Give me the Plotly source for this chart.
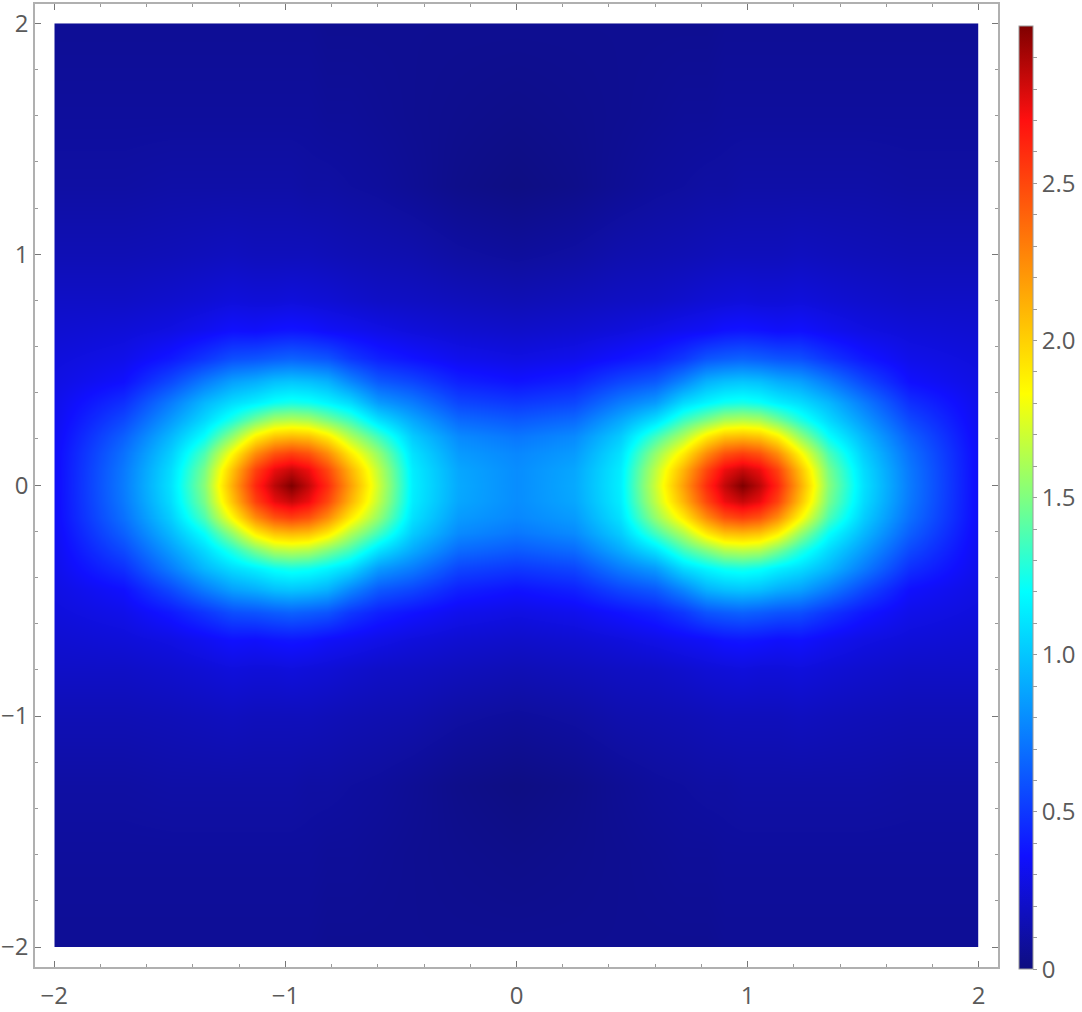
import plotly.graph_objects as go

# grid, upper-right quadrant (x >= 0, y >= 0);
# the density is mirror-symmetric in x and y, so the other quadrants reuse it
x_half = [0, 0.25, 0.45, 0.6, 0.72, 0.82, 0.9, 0.975, 1.05, 1.13, 1.23, 1.35, 1.5, 1.7, 2.0]
y_half = [0, 0.07, 0.14, 0.21, 0.28, 0.36, 0.45, 0.55, 0.67, 0.8, 1.0, 1.3, 1.6, 2.0]

z_quadrant = [
    [0.80, 0.90, 1.15, 1.70, 2.18, 2.60, 2.84, 3.00, 2.86, 2.62, 2.13, 1.52, 1.10, 0.74, 0.33],
    [0.80, 0.89, 1.14, 1.66, 2.10, 2.50, 2.74, 2.83, 2.75, 2.52, 2.05, 1.48, 1.08, 0.73, 0.33],
    [0.78, 0.85, 1.10, 1.55, 1.90, 2.25, 2.46, 2.53, 2.46, 2.25, 1.85, 1.38, 1.03, 0.70, 0.33],
    [0.72, 0.79, 1.02, 1.35, 1.62, 1.90, 2.05, 2.08, 2.04, 1.88, 1.55, 1.21, 0.95, 0.64, 0.32],
    [0.62, 0.68, 0.90, 1.10, 1.35, 1.50, 1.62, 1.65, 1.62, 1.48, 1.28, 1.07, 0.85, 0.56, 0.31],
    [0.50, 0.55, 0.74, 0.85, 1.07, 1.17, 1.23, 1.25, 1.22, 1.15, 1.08, 0.95, 0.74, 0.47, 0.30],
    [0.37, 0.42, 0.55, 0.62, 0.78, 0.93, 0.98, 1.00, 0.98, 0.92, 0.87, 0.74, 0.56, 0.36, 0.28],
    [0.28, 0.31, 0.37, 0.42, 0.50, 0.60, 0.63, 0.65, 0.63, 0.60, 0.58, 0.49, 0.39, 0.30, 0.26],
    [0.21, 0.23, 0.26, 0.29, 0.32, 0.34, 0.37, 0.38, 0.37, 0.35, 0.36, 0.32, 0.28, 0.25, 0.23],
    [0.15, 0.17, 0.19, 0.20, 0.22, 0.24, 0.25, 0.26, 0.25, 0.25, 0.26, 0.24, 0.22, 0.20, 0.20],
    [0.08, 0.10, 0.13, 0.14, 0.15, 0.16, 0.17, 0.17, 0.17, 0.17, 0.18, 0.17, 0.16, 0.15, 0.15],
    [0.01, 0.03, 0.06, 0.08, 0.09, 0.10, 0.10, 0.11, 0.11, 0.11, 0.11, 0.11, 0.11, 0.10, 0.10],
    [0.03, 0.04, 0.05, 0.06, 0.07, 0.07, 0.08, 0.08, 0.08, 0.08, 0.08, 0.08, 0.08, 0.08, 0.08],
    [0.05, 0.05, 0.05, 0.05, 0.05, 0.05, 0.06, 0.06, 0.06, 0.06, 0.06, 0.06, 0.06, 0.06, 0.06],
]

axis_ticks = [-2, -1, 0, 1, 2]
bar_ticks = [round(i * 0.1, 1) for i in range(30)]
bar_labels = ["0" if v == 0 else (f"{v:.1f}" if round(v * 10) % 5 == 0 else "") for v in bar_ticks]

jet = [
    [0.0, "rgb(14,14,128)"],
    [0.12, "rgb(16,16,255)"],
    [0.4, "rgb(0,255,255)"],
    [0.5, "rgb(128,255,128)"],
    [0.61, "rgb(255,255,0)"],
    [0.9, "rgb(255,16,16)"],
    [1.0, "rgb(128,0,0)"],
]

# mirror the quadrant into the full square
x_full = [-v for v in reversed(x_half[1:])] + x_half
y_full = [-v for v in reversed(y_half[1:])] + y_half
rows = [list(reversed(r[1:])) + r for r in z_quadrant]
z_full = list(reversed(rows[1:])) + rows

font = dict(family="Open Sans, DejaVu Sans, sans-serif", size=24, color="#5a5a5a")

fig = go.Figure(go.Contour(
    x=x_full, y=y_full, z=z_full,
    zmin=0, zmax=3.0,
    colorscale=jet,
    contours=dict(coloring="heatmap", showlines=False),
    line=dict(width=0),
    hoverinfo="skip",
    colorbar=dict(
        thickness=14, thicknessmode="pixels",
        len=943, lenmode="pixels",
        x=1.0215, xanchor="left",
        y=0.977, yanchor="top",
        xpad=0, ypad=0,
        outlinewidth=1, outlinecolor="#9a9a9a",
        tickvals=bar_ticks, ticktext=bar_labels,
        ticks="outside", ticklen=4, tickcolor="#9a9a9a",
        tickfont=font,
    ),
))

axis_style = dict(
    tickvals=axis_ticks,
    ticks="inside", ticklen=6, tickcolor="#777777", tickwidth=1,
    minor=dict(tick0=0, dtick=0.2, ticks="inside", ticklen=3, tickcolor="#999999", showgrid=False),
    showline=True, linecolor="#b0b0b0", linewidth=1.5, mirror="ticks",
    showgrid=False, zeroline=False,
    tickfont=font,
    automargin=False,
)

fig.update_xaxes(range=[-2.0835, 2.0835], ticklabelstandoff=6, **axis_style)
fig.update_yaxes(range=[-2.0866, 2.0836], **axis_style)

fig.update_layout(
    width=1082, height=1012,
    margin=dict(l=35, r=84, t=4, b=45, autoexpand=False),
    paper_bgcolor="white", plot_bgcolor="white",
    showlegend=False,
)

# page body has a default 8px margin; drop it so the figure sits at the window corner
fig.write_html(
    "out.html",
    config={"displayModeBar": False},
    post_script="document.body.style.margin = '0px';",
)
